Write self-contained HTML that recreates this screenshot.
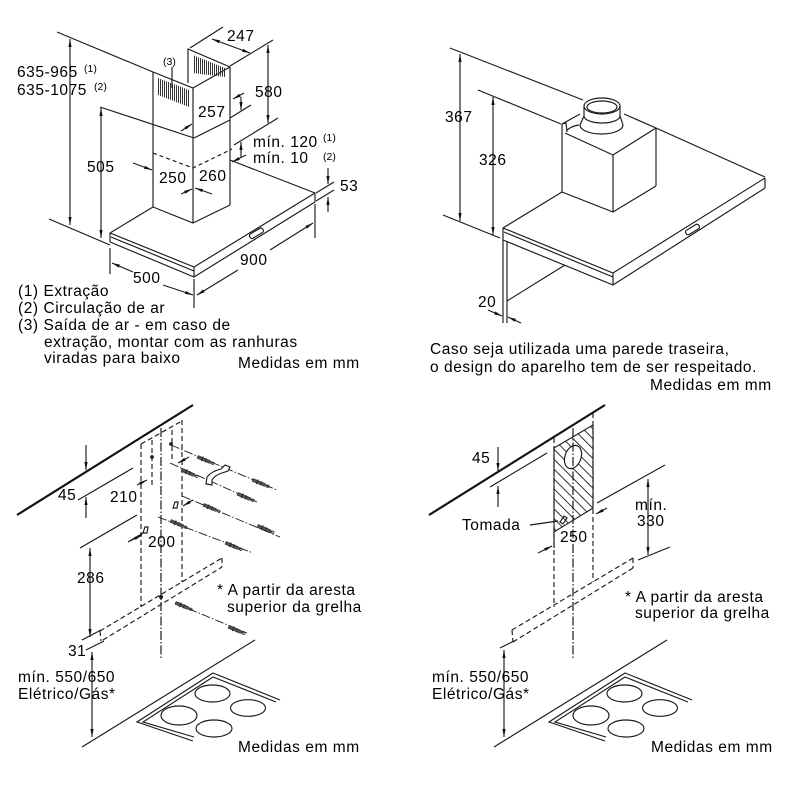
<!DOCTYPE html>
<html><head><meta charset="utf-8">
<style>
html,body{margin:0;padding:0;background:#fff;}
svg{display:block;}
text{font-family:"Liberation Sans",Arial,sans-serif;font-size:15.5px;fill:#000;letter-spacing:0.55px;}
text.s{font-size:10.5px;letter-spacing:0;}
</style></head><body>
<svg width="800" height="800" viewBox="0 0 800 800" xmlns="http://www.w3.org/2000/svg">
<defs>
<marker id="a" viewBox="0 0 10 10" refX="10" refY="5" markerWidth="8" markerHeight="8" markerUnits="userSpaceOnUse" orient="auto-start-reverse"><path d="M0,3 L10,5 L0,7 Z" fill="#111"/></marker>
<pattern id="v" width="2" height="6" patternUnits="userSpaceOnUse"><rect x="0" y="0" width="1" height="6" fill="#333"/></pattern>
<pattern id="h" width="7" height="7" patternUnits="userSpaceOnUse" patternTransform="rotate(45)"><line x1="0" y1="3" x2="7" y2="3" stroke="#333" stroke-width="1"/></pattern>
<g id="sc"><path d="M-8,-1.4 L5,-1.4 L8,0 L5,1.4 L-8,1.4 Z" fill="#555" stroke="#222" stroke-width="0.6"/><line x1="-3" y1="-2.6" x2="-3" y2="2.6" stroke="#222" stroke-width="0.9"/><line x1="1" y1="-2.2" x2="1" y2="2.2" stroke="#222" stroke-width="0.7"/><circle cx="8.5" cy="0" r="1.3" fill="none" stroke="#222" stroke-width="0.7"/></g>
</defs>

<g stroke="#1a1a1a" stroke-width="1.15" fill="none">
<!-- ============ Q1 ============ -->
<line x1="57" y1="32" x2="153" y2="72"/>
<line x1="49" y1="219" x2="110" y2="245"/>
<line x1="100" y1="107" x2="194" y2="138"/>
<line x1="70" y1="39" x2="70" y2="225" marker-start="url(#a)" marker-end="url(#a)"/>
<line x1="101" y1="108" x2="101" y2="238" marker-start="url(#a)" marker-end="url(#a)"/>
<!-- chimney -->
<line x1="153" y1="72" x2="153" y2="207"/>
<line x1="193" y1="88" x2="193" y2="223"/>
<line x1="230" y1="67" x2="230" y2="205"/>
<polyline points="153,72 193,88 230,67"/>
<polyline points="188,83 188,49 230,67"/>
<line x1="194" y1="138" x2="230" y2="120"/>
<polyline points="153,153 193,168 232,149" stroke-dasharray="4,3"/>
<polyline points="153,207 193,223 230,205"/>
<polygon points="158,78 189,90 189,107 158,95" fill="url(#v)" stroke="none"/>
<polygon points="193,55 225,68 225,77 193,73" fill="url(#v)" stroke="none"/>
<line x1="172" y1="67" x2="172" y2="88"/>
<!-- 247 -->
<line x1="190" y1="48" x2="223" y2="27"/>
<line x1="230" y1="66" x2="273" y2="40"/>
<line x1="212" y1="39" x2="250" y2="53" marker-start="url(#a)" marker-end="url(#a)"/>
<!-- 580 -->
<line x1="234" y1="145" x2="278" y2="118"/>
<line x1="268" y1="45" x2="268" y2="123" marker-start="url(#a)" marker-end="url(#a)"/>
<!-- 257 -->
<line x1="230" y1="118" x2="251" y2="105"/>
<line x1="244" y1="93" x2="233" y2="99" marker-end="url(#a)"/>
<line x1="241" y1="97" x2="241" y2="110" marker-end="url(#a)"/>
<line x1="181" y1="131" x2="192" y2="124" marker-end="url(#a)"/>
<!-- min 120 -->
<line x1="241" y1="157" x2="241" y2="142" marker-end="url(#a)"/>
<line x1="246" y1="155" x2="232" y2="162" marker-end="url(#a)"/>
<!-- 250/260 -->
<line x1="133" y1="163" x2="152" y2="170" marker-end="url(#a)"/>
<line x1="181" y1="194" x2="192" y2="189" marker-end="url(#a)"/>
<line x1="212" y1="194" x2="195" y2="188" marker-end="url(#a)"/>
<!-- hood -->
<line x1="153" y1="207" x2="110" y2="233"/>
<line x1="230" y1="160" x2="315" y2="193"/>
<polyline points="110,233 194,267 315,193"/>
<line x1="111" y1="237" x2="194" y2="271"/>
<line x1="110" y1="233" x2="110" y2="242"/>
<polyline points="110,242 194,277 315,202"/>
<line x1="194" y1="267" x2="194" y2="277"/>
<line x1="315" y1="193" x2="315" y2="202"/>
<rect x="249" y="231" width="15" height="5" rx="2" transform="rotate(-31 256 233.5)"/>
<!-- 900 -->
<line x1="194" y1="279" x2="194" y2="308"/>
<line x1="315" y1="204" x2="315" y2="238"/>
<line x1="238" y1="270" x2="197" y2="295" marker-end="url(#a)"/>
<line x1="270" y1="250" x2="313" y2="223" marker-end="url(#a)"/>
<!-- 500 -->
<line x1="110" y1="248" x2="110" y2="274"/>
<line x1="133" y1="272" x2="112" y2="263" marker-end="url(#a)"/>
<line x1="163" y1="285" x2="193" y2="295" marker-end="url(#a)"/>
<!-- 53 -->
<line x1="316" y1="193" x2="334" y2="182"/>
<line x1="316" y1="201" x2="334" y2="190"/>
<line x1="328" y1="168" x2="328" y2="184" marker-end="url(#a)"/>
<line x1="328" y1="212" x2="328" y2="197" marker-end="url(#a)"/>

<!-- ============ Q2 ============ -->
<line x1="450" y1="48" x2="583" y2="100"/>
<line x1="478" y1="90" x2="561" y2="124"/>
<line x1="443" y1="215" x2="500" y2="238"/>
<line x1="460" y1="54" x2="460" y2="221" marker-start="url(#a)" marker-end="url(#a)"/>
<line x1="493" y1="97" x2="493" y2="235" marker-start="url(#a)" marker-end="url(#a)"/>
<!-- box -->
<line x1="562" y1="124" x2="562" y2="192"/>
<line x1="613" y1="155" x2="613" y2="212"/>
<line x1="656" y1="128" x2="656" y2="186"/>
<polyline points="562,192 613,212 656,186"/>
<polyline points="565,133 613,155 656,128"/>
<line x1="624" y1="114" x2="656" y2="128"/>
<line x1="562" y1="124" x2="580" y2="114"/>
<path d="M562,124 L566,123 L567,132 M567,130 Q572,126 579,125"/>
<!-- cylinder -->
<path d="M580,125 L584,116 L584,106 M620,106 L620,116 L623,125" />
<path d="M584,116 A18,7 0 0 0 620,116"/>
<path d="M580,125 A21.5,9 0 0 0 623,125"/>
<ellipse cx="602" cy="106" rx="18" ry="8" fill="#fff"/>
<ellipse cx="602" cy="107" rx="15" ry="6"/>
<!-- hood -->
<line x1="656" y1="128" x2="765" y2="177"/>
<line x1="503" y1="228" x2="562" y2="192"/>
<polyline points="503,228 613,273 765,178"/>
<line x1="504" y1="232" x2="613" y2="277"/>
<line x1="503" y1="228" x2="503" y2="302"/>
<line x1="507" y1="241" x2="507" y2="302"/>
<polyline points="503,240 613,285 765,188"/>
<line x1="613" y1="273" x2="613" y2="285"/>
<line x1="765" y1="178" x2="765" y2="188"/>
<line x1="507" y1="301" x2="565" y2="265"/>
<rect x="685" y="227" width="15" height="5" rx="2" transform="rotate(-31 692.5 229.5)"/>
<!-- 20 -->
<line x1="503" y1="302" x2="503" y2="323"/>
<line x1="507" y1="302" x2="507" y2="323"/>
<line x1="488" y1="310" x2="502" y2="316" marker-end="url(#a)"/>
<line x1="521" y1="323" x2="508" y2="317" marker-end="url(#a)"/>

<!-- ============ Q3 ============ -->
<line x1="17" y1="515" x2="193" y2="405" stroke-width="2.2" stroke="#111"/>
<line x1="86" y1="445" x2="86" y2="470" marker-end="url(#a)"/>
<line x1="86" y1="518" x2="86" y2="497" marker-end="url(#a)"/>
<line x1="78" y1="500" x2="133" y2="468"/>
<line x1="80" y1="548" x2="137" y2="515"/>
<g stroke-dasharray="5,3">
<line x1="141" y1="444" x2="141" y2="607"/>
<line x1="152" y1="440" x2="152" y2="488"/>
<line x1="172" y1="430" x2="172" y2="462"/>
<line x1="182" y1="420" x2="182" y2="582"/>
<line x1="141" y1="444" x2="182" y2="421"/>
<line x1="100" y1="631" x2="222" y2="558"/>
<line x1="103" y1="640" x2="222" y2="567"/>
<line x1="100" y1="631" x2="101" y2="641"/>
<line x1="222" y1="558" x2="222" y2="567"/>
</g>
<line x1="161" y1="428" x2="161" y2="660" stroke-dasharray="9,2,1.5,2" stroke-width="1.2"/>
<g stroke-dasharray="9,2,1.5,2" stroke-width="0.9">
<line x1="171" y1="445" x2="277" y2="490"/>
<line x1="170" y1="463" x2="257" y2="502"/>
<line x1="182" y1="496" x2="280" y2="537"/>
<line x1="158" y1="517" x2="253" y2="553"/>
<line x1="175" y1="603" x2="247" y2="633"/>
</g>
<circle cx="171" cy="444" r="1.3" fill="#222"/>
<circle cx="152" cy="457" r="1.3" fill="#222"/>
<circle cx="161" cy="597" r="1.5" fill="#222"/>
<path d="M206,484 L207,477 Q212,471 221,469 L225,465 L230,467 L228,471 L222,473 Q215,475 212,480 L212,485 Z" fill="#fff"/>
<path d="M173,508 l2,-6 l3,0 l-1,6 z M143,533 l2,-6 l3,0 l-1,6 z"/>
<line x1="137" y1="485" x2="147" y2="480" marker-end="url(#a)"/>
<line x1="189" y1="457" x2="178" y2="463" marker-end="url(#a)"/>
<line x1="130" y1="541" x2="142" y2="535" marker-end="url(#a)"/>
<line x1="193" y1="500" x2="183" y2="506" marker-end="url(#a)"/>
<line x1="128" y1="542" x2="143" y2="533"/>
<line x1="82" y1="640" x2="101" y2="630"/>
<line x1="86" y1="650" x2="104" y2="641"/>
<line x1="90" y1="548" x2="90" y2="637" marker-start="url(#a)" marker-end="url(#a)"/>
<line x1="92" y1="652" x2="92" y2="737" marker-start="url(#a)" marker-end="url(#a)"/>
<line x1="82" y1="747" x2="255" y2="640"/>
<polyline points="280,700 213,673 137,722 193,741"/>
<polyline points="276,702 213,677 143,722 194,737"/>
<ellipse cx="212.5" cy="693.5" rx="17.5" ry="8.5"/>
<ellipse cx="248" cy="708" rx="17.5" ry="8.3"/>
<ellipse cx="179" cy="715.5" rx="18" ry="9.5"/>
<ellipse cx="214" cy="728.5" rx="18" ry="8.5"/>

<!-- ============ Q4 ============ -->
<line x1="429" y1="515" x2="605" y2="405" stroke-width="2.2" stroke="#111"/>
<line x1="498" y1="447" x2="498" y2="471" marker-end="url(#a)"/>
<line x1="498" y1="507" x2="498" y2="486" marker-end="url(#a)"/>
<line x1="490" y1="487" x2="547" y2="453"/>
<polygon points="554,448 593,425 593,508 554,532" fill="url(#h)" stroke="#222"/>
<ellipse cx="573" cy="457" rx="8" ry="12" fill="#fff" transform="rotate(20 573 457)"/>
<g stroke-dasharray="5,3">
<line x1="554" y1="438" x2="554" y2="607"/>
<line x1="593" y1="413" x2="593" y2="582"/>
<line x1="512" y1="630" x2="633" y2="558"/>
<line x1="513" y1="642" x2="633" y2="568"/>
<line x1="512" y1="630" x2="513" y2="642"/>
<line x1="633" y1="558" x2="633" y2="568"/>
</g>
<line x1="573" y1="428" x2="573" y2="658" stroke-dasharray="9,2,1.5,2" stroke-width="1.2"/>
<line x1="530" y1="525" x2="558" y2="521"/>
<path d="M560,522 l4,-6 l3,2 l-4,6 z"/>
<line x1="538" y1="553" x2="552" y2="546" marker-end="url(#a)"/>
<line x1="607" y1="508" x2="596" y2="514" marker-end="url(#a)"/>
<line x1="554" y1="532" x2="554" y2="548"/>
<line x1="597" y1="503" x2="665" y2="465"/>
<line x1="638" y1="560" x2="670" y2="547"/>
<line x1="648" y1="479" x2="648" y2="555" marker-start="url(#a)" marker-end="url(#a)"/>
<line x1="500" y1="648" x2="514" y2="641"/>
<line x1="504" y1="650" x2="504" y2="737" marker-start="url(#a)" marker-end="url(#a)"/>
<line x1="494" y1="747" x2="667" y2="640"/>
<polyline points="692,700 625,673 549,722 605,741"/>
<polyline points="688,702 625,677 555,722 606,737"/>
<ellipse cx="624.5" cy="693.5" rx="17.5" ry="8.5"/>
<ellipse cx="660" cy="708" rx="17.5" ry="8.3"/>
<ellipse cx="591" cy="715.5" rx="18" ry="9.5"/>
<ellipse cx="626" cy="728.5" rx="18" ry="8.5"/>
</g>

<!-- screws Q3 -->
<use href="#sc" transform="translate(205,460) rotate(23)"/>
<use href="#sc" transform="translate(260,483) rotate(23)"/>
<use href="#sc" transform="translate(189,473) rotate(23)"/>
<use href="#sc" transform="translate(245,497) rotate(23)"/>
<use href="#sc" transform="translate(211,508) rotate(23)"/>
<use href="#sc" transform="translate(265,529) rotate(23)"/>
<use href="#sc" transform="translate(178,524) rotate(23)"/>
<use href="#sc" transform="translate(233,546) rotate(23)"/>
<use href="#sc" transform="translate(183,606) rotate(23)"/>
<use href="#sc" transform="translate(236,630) rotate(23)"/>

<!-- ============ TEXT ============ -->
<text x="17" y="77">635-965</text><text class="s" x="84" y="72">(1)</text>
<text x="17" y="95">635-1075</text><text class="s" x="94" y="90">(2)</text>
<text x="87" y="172">505</text>
<text x="227" y="41">247</text>
<text x="255" y="97">580</text>
<text x="163" y="65" class="s">(3)</text>
<text x="198" y="117">257</text>
<text x="253" y="147">mín. 120</text><text class="s" x="323" y="141">(1)</text>
<text x="253" y="163">mín. 10</text><text class="s" x="323" y="160">(2)</text>
<text x="159" y="183">250</text>
<text x="199" y="181">260</text>
<text x="340" y="191">53</text>
<text x="240" y="265">900</text>
<text x="133" y="283">500</text>
<text x="18" y="296">(1) Extração</text>
<text x="18" y="313">(2) Circulação de ar</text>
<text x="18" y="330">(3) Saída de ar - em caso de</text>
<text x="44" y="347">extração, montar com as ranhuras</text>
<text x="44" y="363">viradas para baixo</text>
<text x="238" y="368">Medidas em mm</text>

<text x="445" y="122">367</text>
<text x="479" y="165">326</text>
<text x="478" y="307">20</text>
<text x="430" y="354">Caso seja utilizada uma parede traseira,</text>
<text x="430" y="372">o design do aparelho tem de ser respeitado.</text>
<text x="650" y="390">Medidas em mm</text>

<text x="58" y="500">45</text>
<text x="110" y="502">210</text>
<text x="148" y="547">200</text>
<text x="77" y="583">286</text>
<text x="68" y="656">31</text>
<text x="217" y="595">* A partir da aresta</text>
<text x="227" y="612">superior da grelha</text>
<text x="18" y="682">mín. 550/650</text>
<text x="18" y="699">Elétrico/Gás*</text>
<text x="238" y="752">Medidas em mm</text>

<text x="472" y="463">45</text>
<text x="462" y="530">Tomada</text>
<text x="560" y="542">250</text>
<text x="635" y="510">mín.</text>
<text x="637" y="526">330</text>
<text x="625" y="602">* A partir da aresta</text>
<text x="635" y="618">superior da grelha</text>
<text x="432" y="682">mín. 550/650</text>
<text x="432" y="699">Elétrico/Gás*</text>
<text x="651" y="752">Medidas em mm</text>
</svg>
</body></html>
